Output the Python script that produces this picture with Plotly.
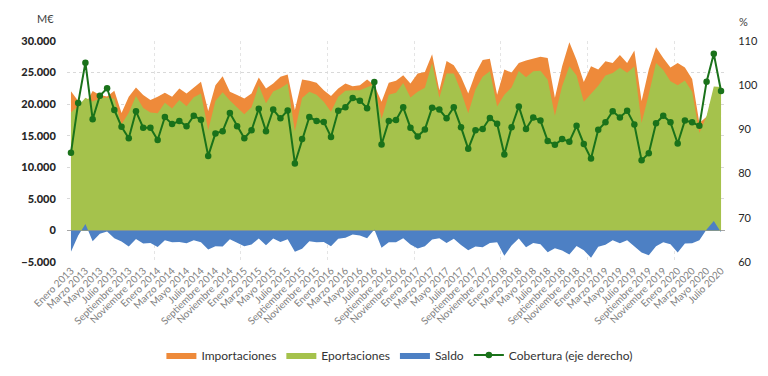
import plotly.graph_objects as go

meses = ["Enero", "Febrero", "Marzo", "Abril", "Mayo", "Junio", "Julio", "Agosto",
         "Septiembre", "Octubre", "Noviembre", "Diciembre"]
periodos = [f"{meses[k % 12]} {2013 + k // 12}" for k in range(91)]

importaciones = [22060, 20500, 20000, 22100, 21430, 21200, 22110, 18580, 21160, 22640,
                 21430, 20640, 21160, 21790, 21160, 22480, 21690, 22640, 23530, 18900,
                 23000, 24430, 21950, 21430, 20900, 21700, 24220, 22480, 23270, 24320,
                 24690, 19060, 23900, 23690, 23370, 22220, 21300, 22480, 23270, 22850,
                 23000, 23900, 23000, 20370, 23370, 23690, 24580, 23270, 24850, 25110,
                 27900, 22220, 26850, 26160, 24320, 21690, 24850, 27000, 27200, 21500,
                 25500, 25000, 26500, 26900, 27200, 27500, 27300, 21000, 26000, 29800,
                 27000, 23500, 26000, 25500, 26800, 26500, 27800, 26500, 28500, 20500,
                 25500, 29000, 27300, 25800, 26500, 25800, 24000, 17000, 18000, 21300,
                 23000]
exportaciones = [18690, 19700, 21020, 20400, 20920, 21050, 20870, 16830, 18620, 21300,
                 19370, 18660, 18540, 20220, 19300, 20660, 19670, 21080, 21670, 15880,
                 20490, 21890, 20570, 19440, 18390, 19490, 22940, 20140, 21990, 22500,
                 23280, 15690, 20980, 21980, 21480, 20380, 18810, 21180, 22110, 22190,
                 22200, 22660, 23160, 17640, 21480, 21820, 23350, 21040, 21970, 22600,
                 26480, 21000, 24840, 24850, 22010, 18570, 22320, 24330, 25190, 19630,
                 21500, 22630, 25230, 24240, 25210, 25300, 23860, 18170, 22830, 25990,
                 24520, 20370, 21680, 22900, 24550, 24940, 25770, 24960, 25960, 17020,
                 21570, 26510, 25420, 23630, 23000, 23740, 21980, 15440, 18140, 22810,
                 22700]
saldo = [-3370, -800, 1020, -1700, -510, -150, -1240, -1750, -2540, -1340,
         -2060, -1980, -2620, -1570, -1860, -1820, -2020, -1560, -1860, -3020,
         -2510, -2540, -1380, -1990, -2510, -2210, -1280, -2340, -1280, -1820,
         -1410, -3370, -2920, -1710, -1890, -1840, -2490, -1300, -1160, -660,
         -800, -1240, 160, -2730, -1890, -1870, -1230, -2230, -2880, -2510,
         -1420, -1220, -2010, -1310, -2310, -3120, -2530, -2670, -2010, -1870,
         -4000, -2370, -1270, -2660, -1990, -2200, -3440, -2830, -3170, -3810,
         -2480, -3130, -4320, -2600, -2250, -1560, -2030, -1540, -2540, -3480,
         -3930, -2490, -1880, -2170, -3500, -2060, -2020, -1560, 140, 1510,
         -300]
cobertura = [84.7, 96.0, 105.1, 92.3, 97.6, 99.3, 94.4, 90.6, 88.0, 94.1,
             90.4, 90.4, 87.6, 92.8, 91.2, 91.9, 90.7, 93.1, 92.2, 84.0,
             89.1, 89.6, 93.7, 90.7, 88.0, 89.8, 94.7, 89.6, 94.5, 92.5,
             94.3, 82.3, 87.8, 92.8, 91.9, 91.7, 88.3, 94.2, 95.0, 97.1,
             96.5, 94.8, 100.7, 86.6, 91.9, 92.1, 95.0, 90.4, 88.4, 90.0,
             94.9, 94.5, 92.5, 95.0, 90.5, 85.6, 89.8, 90.1, 92.6, 91.3,
             84.3, 90.5, 95.2, 90.1, 92.7, 92.0, 87.4, 86.5, 87.8, 87.2,
             90.8, 86.7, 83.4, 89.9, 91.6, 94.1, 92.7, 94.2, 91.1, 83.0,
             84.6, 91.4, 93.1, 91.6, 86.8, 92.0, 91.6, 90.8, 100.8, 107.1,
             98.7]

x = list(range(len(periodos)))
tick_idx = x[::2]
tick_txt = [periodos[k] for k in tick_idx]

FONT = "Lato"
fig = go.Figure()
fig.add_trace(go.Scatter(x=x, y=importaciones, name="Importaciones", mode="lines",
                         line=dict(width=0, color="#EE8A3A"), fill="tozeroy",
                         fillcolor="#EE8A3A"))
fig.add_trace(go.Scatter(x=x, y=exportaciones, name="Eportaciones", mode="lines",
                         line=dict(width=0, color="#A5C24C"), fill="tozeroy",
                         fillcolor="#A5C24C"))
fig.add_trace(go.Scatter(x=x, y=saldo, name="Saldo", mode="lines",
                         line=dict(width=0, color="#4D80C4"), fill="tozeroy",
                         fillcolor="#4D80C4"))
fig.add_trace(go.Scatter(x=x, y=cobertura, name="Cobertura (eje derecho)",
                         mode="lines+markers", yaxis="y2",
                         line=dict(width=2, color="#1A721A"),
                         marker=dict(size=6.5, color="#1A721A")))

fig.update_layout(
    width=760, height=368,
    margin=dict(l=59, r=43, t=33, b=114, autoexpand=False),
    paper_bgcolor="white", plot_bgcolor="white",
    separators=",.",
    font=dict(family=FONT, color="#404040"),
    showlegend=True,
    legend=dict(orientation="h", x=0.515, xanchor="center", xref="container",
                y=0.057, yanchor="middle", yref="container",
                font=dict(size=12, color="#333333"), itemwidth=30,
                traceorder="normal"),
    xaxis=dict(range=[-0.55, 90.55], tickmode="array", tickvals=tick_idx,
               ticktext=tick_txt, tickangle=-45, showgrid=False, zeroline=False,
               ticks="", tickfont=dict(size=10, color="#7F7F7F", family=FONT),
               showline=False, automargin=False,
               minor=dict(tickvals=[11.5, 23.5, 35.5, 47.5, 59.5, 71.5, 83.5],
                          showgrid=True, gridcolor="#E4E4E4", griddash="dot",
                          gridwidth=1, ticks="")),
    yaxis=dict(range=[-5000, 30000], tickvals=[-5000, 0, 5000, 10000, 15000, 20000,
                                                25000, 30000],
               tickformat=",d", showgrid=True, gridcolor="#D9D9D9", griddash="dot",
               zeroline=True, zerolinecolor="#A6A6A6", zerolinewidth=1,
               automargin=False,
               tickfont=dict(size=11, color="#262626", family=FONT + " Black"),
               ticks="outside", ticklen=8, tickcolor="rgba(0,0,0,0)"),
    yaxis2=dict(range=[60, 110], overlaying="y", side="right",
                tickvals=[60, 70, 80, 90, 100, 110], showgrid=False, zeroline=False,
                automargin=False,
                tickfont=dict(size=11, color="#262626", family=FONT),
                ticks="outside", ticklen=10, tickcolor="rgba(0,0,0,0)"),
    annotations=[
        dict(text="M€", xref="paper", yref="paper", x=-0.033, y=1.10, showarrow=False,
             xanchor="center", yanchor="middle",
             font=dict(size=11, color="#404040", family=FONT)),
        dict(text="%", xref="paper", yref="paper", x=1.018, y=1.086, showarrow=False,
             xanchor="left", yanchor="middle",
             font=dict(size=11, color="#404040", family=FONT)),
    ],
)
fig.write_html("out.html")
